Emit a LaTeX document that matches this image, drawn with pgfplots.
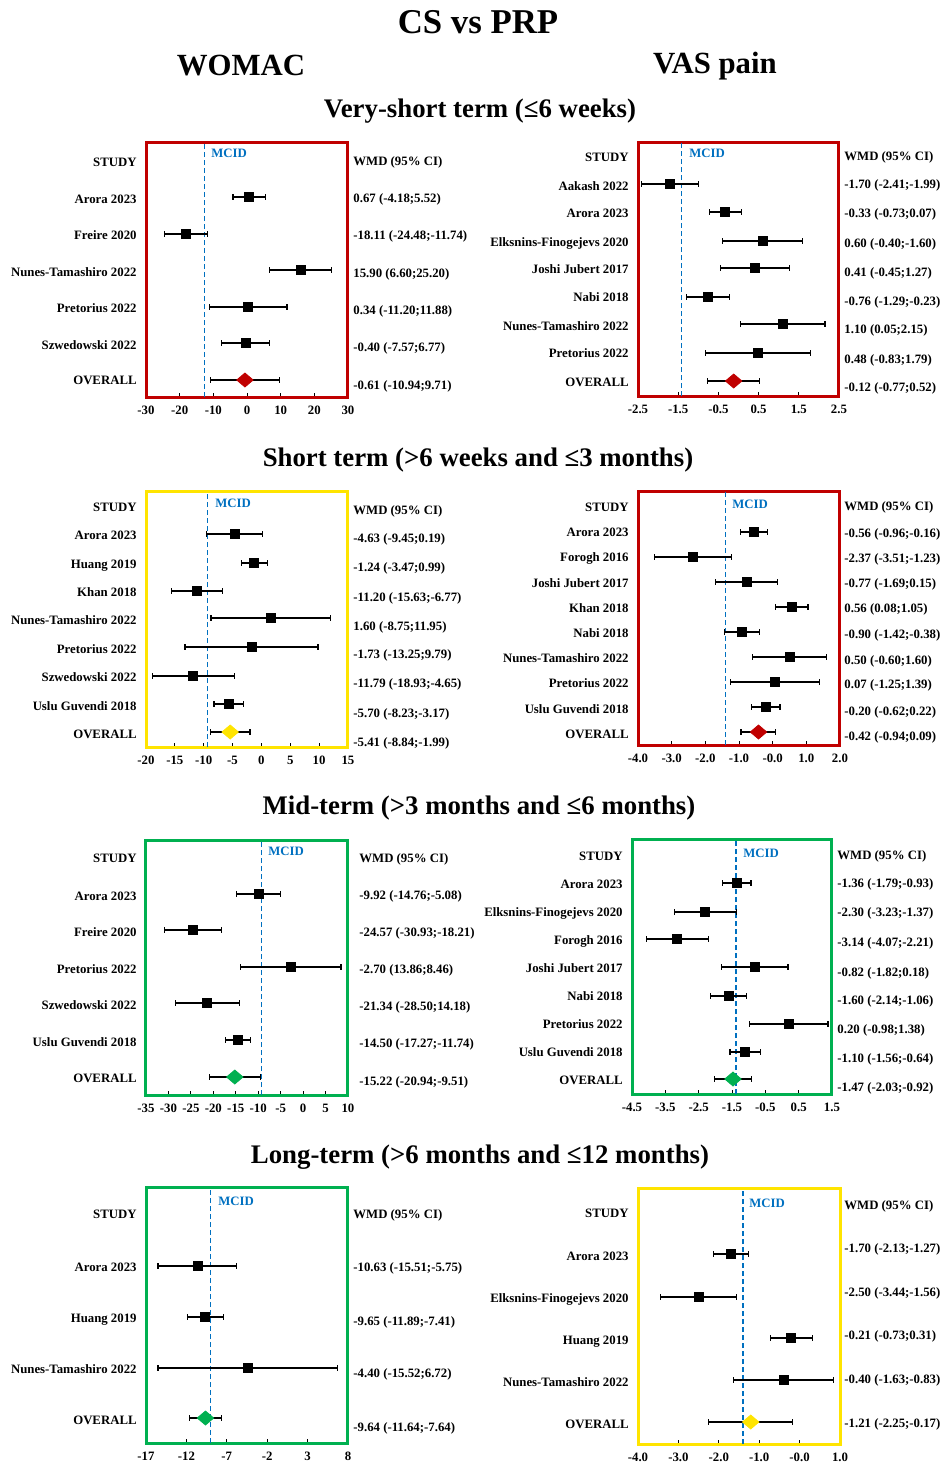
\documentclass[border=0pt]{standalone}
\usepackage{pgfplots}
\pgfplotsset{compat=1.18}
\usepackage{pgfplotstable}
\usepackage{fontspec}
\setmainfont{Liberation Serif}
\definecolor{cRed}{RGB}{192,0,0}
\definecolor{cYel}{RGB}{255,228,0}
\definecolor{cGrn}{RGB}{0,176,80}
\definecolor{cBlue}{RGB}{0,112,192}
\newcommand\lbl{\bfseries\fontsize{6.4}{7.6}\selectfont}
\tikzset{lab/.style={font=\lbl, inner sep=0pt, text height=4.2pt, text depth=0pt}}
\pgfdeclareplotmark{fdiamond}{%
  \pgfpathmoveto{\pgfqpoint{0pt}{0.85\pgfplotmarksize}}%
  \pgfpathlineto{\pgfqpoint{\pgfplotmarksize}{0pt}}%
  \pgfpathlineto{\pgfqpoint{0pt}{-0.85\pgfplotmarksize}}%
  \pgfpathlineto{\pgfqpoint{-\pgfplotmarksize}{0pt}}%
  \pgfpathclose\pgfusepathqfillstroke}
\pgfplotsset{
 forest/.style={scale only axis, anchor=south west, clip=false,
   axis line style={line width=1.5pt, #1},
   xtick pos=left, ytick pos=left, tick align=inside, major tick length=2pt,
   major tick style={black, line width=0.4pt},
   ytick style={draw=none},
   xticklabel style={font=\lbl, inner sep=0pt, text height=4.2pt, text depth=0pt, yshift=-4.5pt},
   yticklabel style={lab, anchor=east, xshift=-4.5pt},
 },
 study/.style={only marks, mark=square*, mark size=2.25pt, black,
   error bars/.cd, x dir=both, x explicit, error mark=|,
   error bar style={line width=0.6pt, black},
   error mark options={mark size=1.3pt, line width=0.6pt, black}},
 overall/.style={only marks, mark=fdiamond, mark size=4.1pt, color=#1,
   error bars/.cd, x dir=both, x explicit, error mark=|,
   error bar style={line width=0.6pt, black},
   error mark options={mark size=1.3pt, line width=0.6pt, black}},
 mcid/.style={cBlue, line width=0.6pt, dash pattern=on 2.5pt off 1.5pt},
}

% ---------- data (y = row position, x = WMD, lo/hi = 95% CI) ----------
\pgfplotstableread{
y x lo hi
-197 0.67 -4.18 5.52
-234 -18.11 -24.48 -11.74
-270 15.90 6.60 25.20
-307 0.34 -11.20 11.88
-343 -0.40 -7.57 6.77
}\pA
\pgfplotstableread{
y x lo hi
-380 -0.61 -10.94 9.71
}\oA
\pgfplotstableread{
y x lo hi
-184 -1.70 -2.41 -0.99
-212 -0.33 -0.73 0.07
-241 0.60 -0.40 1.60
-268 0.41 -0.45 1.27
-297 -0.76 -1.29 -0.23
-324 1.10 0.05 2.15
-353 0.48 -0.83 1.79
}\pB
\pgfplotstableread{
y x lo hi
-381 -0.12 -0.77 0.52
}\oB
\pgfplotstableread{
y x lo hi
-534 -4.63 -9.45 0.19
-563 -1.24 -3.47 0.99
-591 -11.20 -15.63 -6.77
-618 1.60 -8.75 11.95
-647 -1.73 -13.25 9.79
-676 -11.79 -18.93 -4.65
-704 -5.70 -8.23 -3.17
}\pC
\pgfplotstableread{
y x lo hi
-732 -5.41 -8.84 -1.99
}\oC
\pgfplotstableread{
y x lo hi
-532 -0.56 -0.96 -0.16
-557 -2.37 -3.51 -1.23
-582 -0.77 -1.69 0.15
-607 0.56 0.08 1.05
-632 -0.90 -1.42 -0.38
-657 0.50 -0.60 1.60
-682 0.07 -1.25 1.39
-707 -0.20 -0.62 0.22
}\pD
\pgfplotstableread{
y x lo hi
-732 -0.42 -0.94 0.09
}\oD
\pgfplotstableread{
y x lo hi
-894 -9.92 -14.76 -5.08
-930 -24.57 -30.93 -18.21
-967 -2.70 -13.86 8.46
-1003 -21.34 -28.50 -14.18
-1040 -14.50 -17.27 -11.74
}\pE
\pgfplotstableread{
y x lo hi
-1077 -15.22 -20.94 -9.51
}\oE
\pgfplotstableread{
y x lo hi
-883 -1.36 -1.79 -0.93
-912 -2.30 -3.23 -1.37
-939 -3.14 -4.07 -2.21
-967 -0.82 -1.82 0.18
-996 -1.60 -2.14 -1.06
-1024 0.20 -0.98 1.38
-1052 -1.10 -1.56 -0.64
}\pF
\pgfplotstableread{
y x lo hi
-1079 -1.47 -2.03 -0.92
}\oF
\pgfplotstableread{
y x lo hi
-1266 -10.63 -15.51 -5.75
-1317 -9.65 -11.89 -7.41
-1368 -4.40 -15.52 6.72
}\pG
\pgfplotstableread{
y x lo hi
-1418 -9.64 -11.64 -7.64
}\oG
\pgfplotstableread{
y x lo hi
-1254 -1.70 -2.13 -1.27
-1297 -2.50 -3.44 -1.56
-1338 -0.21 -0.73 0.31
-1380 -0.40 -1.63 0.83
}\pH
\pgfplotstableread{
y x lo hi
-1422 -1.21 -2.25 -0.17
}\oH

\begin{document}
\begin{tikzpicture}
\useasboundingbox (0,0) rectangle (472.5pt,-732pt);

% ===== Panel A: WOMAC very-short =====
\begin{axis}[forest=cRed, at={(73pt,-198.5pt)}, width=101pt, height=127.5pt,
  xmin=-30, xmax=30, ymin=-397, ymax=-142,
  xtick={-30,-20,-10,0,10,20,30}, xticklabels={-30,-20,-10,0,10,20,30},
  ytick={-380,-345,-308,-272,-235,-199,-162},
  yticklabels={OVERALL,Szwedowski 2022,Pretorius 2022,Nunes-Tamashiro 2022,Freire 2020,Arora 2023,STUDY}]
\addplot[mcid] coordinates {(-12.6,-397) (-12.6,-142)};
\addplot[study] table[x=x, y=y, x error plus expr=\thisrow{hi}-\thisrow{x}, x error minus expr=\thisrow{x}-\thisrow{lo}] {\pA};
\addplot[overall=cRed] table[x=x, y=y, x error plus expr=\thisrow{hi}-\thisrow{x}, x error minus expr=\thisrow{x}-\thisrow{lo}] {\oA};
\end{axis}

% ===== Panel B: VAS very-short =====
\begin{axis}[forest=cRed, at={(319pt,-198pt)}, width=100.5pt, height=127pt,
  xmin=-2.5, xmax=2.5, ymin=-396, ymax=-142,
  xtick={-2.5,-1.5,-0.5,0.5,1.5,2.5}, xticklabels={-2.5,-1.5,-0.5,0.5,1.5,2.5},
  ytick={-382,-353,-326,-297,-269,-242,-213,-186,-157},
  yticklabels={OVERALL,Pretorius 2022,Nunes-Tamashiro 2022,Nabi 2018,Joshi Jubert 2017,Elksnins-Finogejevs 2020,Arora 2023,Aakash 2022,STUDY}]
\addplot[mcid] coordinates {(-1.41,-396) (-1.41,-142)};
\addplot[study] table[x=x, y=y, x error plus expr=\thisrow{hi}-\thisrow{x}, x error minus expr=\thisrow{x}-\thisrow{lo}] {\pB};
\addplot[overall=cRed] table[x=x, y=y, x error plus expr=\thisrow{hi}-\thisrow{x}, x error minus expr=\thisrow{x}-\thisrow{lo}] {\oB};
\end{axis}

% ===== Panel C: WOMAC short =====
\begin{axis}[forest=cYel, at={(73pt,-373.5pt)}, width=101pt, height=128pt,
  xmin=-20, xmax=15, ymin=-747, ymax=-491,
  xtick={-20,-15,-10,-5,0,5,10,15}, xticklabels={-20,-15,-10,-5,0,5,10,15},
  ytick={-734,-706,-677,-649,-620,-592,-564,-535,-507},
  yticklabels={OVERALL,Uslu Guvendi 2018,Szwedowski 2022,Pretorius 2022,Nunes-Tamashiro 2022,Khan 2018,Huang 2019,Arora 2023,STUDY}]
\addplot[mcid] coordinates {(-9.3,-747) (-9.3,-491)};
\addplot[study] table[x=x, y=y, x error plus expr=\thisrow{hi}-\thisrow{x}, x error minus expr=\thisrow{x}-\thisrow{lo}] {\pC};
\addplot[overall=cYel] table[x=x, y=y, x error plus expr=\thisrow{hi}-\thisrow{x}, x error minus expr=\thisrow{x}-\thisrow{lo}] {\oC};
\end{axis}

% ===== Panel D: VAS short =====
\begin{axis}[forest=cRed, at={(319pt,-372.5pt)}, width=101pt, height=127pt,
  xmin=-4, xmax=2, ymin=-745, ymax=-491,
  xtick={-4,-3,-2,-1,0,1,2}, xticklabels={-4.0,-3.0,-2.0,-1.0,-0.0,1.0,2.0},
  ytick={-734,-709,-683,-658,-633,-608,-583,-557,-532,-507},
  yticklabels={OVERALL,Uslu Guvendi 2018,Pretorius 2022,Nunes-Tamashiro 2022,Nabi 2018,Khan 2018,Joshi Jubert 2017,Forogh 2016,Arora 2023,STUDY}]
\addplot[mcid] coordinates {(-1.41,-745) (-1.41,-491)};
\addplot[study] table[x=x, y=y, x error plus expr=\thisrow{hi}-\thisrow{x}, x error minus expr=\thisrow{x}-\thisrow{lo}] {\pD};
\addplot[overall=cRed] table[x=x, y=y, x error plus expr=\thisrow{hi}-\thisrow{x}, x error minus expr=\thisrow{x}-\thisrow{lo}] {\oD};
\end{axis}

% ===== Panel E: WOMAC mid =====
\begin{axis}[forest=cGrn, at={(73pt,-547.5pt)}, width=101pt, height=127.5pt,
  xmin=-35, xmax=10, ymin=-1095, ymax=-840,
  xtick={-35,-30,-25,-20,-15,-10,-5,0,5,10}, xticklabels={-35,-30,-25,-20,-15,-10,-5,0,5,10},
  ytick={-1078,-1042,-1005,-969,-932,-896,-858},
  yticklabels={OVERALL,Uslu Guvendi 2018,Szwedowski 2022,Pretorius 2022,Freire 2020,Arora 2023,STUDY}]
\addplot[mcid] coordinates {(-9.2,-1095) (-9.2,-840)};
\addplot[study] table[x=x, y=y, x error plus expr=\thisrow{hi}-\thisrow{x}, x error minus expr=\thisrow{x}-\thisrow{lo}] {\pE};
\addplot[overall=cGrn] table[x=x, y=y, x error plus expr=\thisrow{hi}-\thisrow{x}, x error minus expr=\thisrow{x}-\thisrow{lo}] {\oE};
\end{axis}

% ===== Panel F: VAS mid =====
\begin{axis}[forest=cGrn, at={(316pt,-547pt)}, width=100pt, height=127.5pt,
  xmin=-4.5, xmax=1.5, ymin=-1094, ymax=-839,
  xtick={-4.5,-3.5,-2.5,-1.5,-0.5,0.5,1.5}, xticklabels={-4.5,-3.5,-2.5,-1.5,-0.5,0.5,1.5},
  ytick={-1080,-1052,-1024,-996,-968,-940,-912,-884,-856},
  yticklabels={OVERALL,Uslu Guvendi 2018,Pretorius 2022,Nabi 2018,Joshi Jubert 2017,Forogh 2016,Elksnins-Finogejevs 2020,Arora 2023,STUDY}]
\addplot[mcid] coordinates {(-1.38,-1094) (-1.38,-839)};
\addplot[study] table[x=x, y=y, x error plus expr=\thisrow{hi}-\thisrow{x}, x error minus expr=\thisrow{x}-\thisrow{lo}] {\pF};
\addplot[overall=cGrn] table[x=x, y=y, x error plus expr=\thisrow{hi}-\thisrow{x}, x error minus expr=\thisrow{x}-\thisrow{lo}] {\oF};
\end{axis}

% ===== Panel G: WOMAC long =====
\begin{axis}[forest=cGrn, at={(73pt,-721.5pt)}, width=101pt, height=128pt,
  xmin=-17, xmax=8, ymin=-1443, ymax=-1187,
  xtick={-17,-12,-7,-2,3,8}, xticklabels={-17,-12,-7,-2,3,8},
  ytick={-1420,-1369,-1318,-1267,-1214},
  yticklabels={OVERALL,Nunes-Tamashiro 2022,Huang 2019,Arora 2023,STUDY}]
\addplot[mcid] coordinates {(-9.0,-1443) (-9.0,-1187)};
\addplot[study] table[x=x, y=y, x error plus expr=\thisrow{hi}-\thisrow{x}, x error minus expr=\thisrow{x}-\thisrow{lo}] {\pG};
\addplot[overall=cGrn] table[x=x, y=y, x error plus expr=\thisrow{hi}-\thisrow{x}, x error minus expr=\thisrow{x}-\thisrow{lo}] {\oG};
\end{axis}

% ===== Panel H: VAS long =====
\begin{axis}[forest=cYel, at={(319pt,-722pt)}, width=101pt, height=128pt,
  xmin=-4, xmax=1, ymin=-1444, ymax=-1188,
  xtick={-4,-3,-2,-1,0,1}, xticklabels={-4.0,-3.0,-2.0,-1.0,-0.0,1.0},
  ytick={-1424,-1382,-1340,-1298,-1256,-1213},
  yticklabels={OVERALL,Nunes-Tamashiro 2022,Huang 2019,Elksnins-Finogejevs 2020,Arora 2023,STUDY}]
\addplot[mcid] coordinates {(-1.4,-1444) (-1.4,-1188)};
\addplot[study] table[x=x, y=y, x error plus expr=\thisrow{hi}-\thisrow{x}, x error minus expr=\thisrow{x}-\thisrow{lo}] {\pH};
\addplot[overall=cYel] table[x=x, y=y, x error plus expr=\thisrow{hi}-\thisrow{x}, x error minus expr=\thisrow{x}-\thisrow{lo}] {\oH};
\end{axis}

% ===== texts (pixel coordinates) =====
\begin{scope}[x=0.5pt, y=-0.5pt]
\node[font=\bfseries\fontsize{17.4}{20}\selectfont] at (478,22) {CS vs PRP};
\node[font=\bfseries\fontsize{15.4}{18}\selectfont] at (241,66) {WOMAC};
\node[font=\bfseries\fontsize{15.4}{18}\selectfont] at (715,66) {VAS pain};
\node[font=\bfseries\fontsize{13.4}{16}\selectfont] at (480,111) {Very-short term (≤6 weeks)};
\node[font=\bfseries\fontsize{13.4}{16}\selectfont] at (478,460) {Short term (>6 weeks and ≤3 months)};
\node[font=\bfseries\fontsize{13.4}{16}\selectfont] at (479,808) {Mid-term (>3 months and ≤6 months)};
\node[font=\bfseries\fontsize{13.4}{16}\selectfont] at (480,1157) {Long-term (>6 months and ≤12 months)};

\begin{scope}[every node/.style={lab, text=cBlue, anchor=west}]
\node at (211,153) {MCID};
\node at (689,153) {MCID};
\node at (215,503) {MCID};
\node at (732,504) {MCID};
\node at (268,851) {MCID};
\node at (743,853) {MCID};
\node at (218,1201) {MCID};
\node at (749,1203) {MCID};
\end{scope}

\begin{scope}[every node/.style={lab, anchor=west}]
% A
\node at (353,161) {WMD (95\% CI)};
\node at (353,198) {0.67 (-4.18;5.52)};
\node at (353,235) {-18.11 (-24.48;-11.74)};
\node at (353,273) {15.90 (6.60;25.20)};
\node at (353,310) {0.34 (-11.20;11.88)};
\node at (353,347) {-0.40 (-7.57;6.77)};
\node at (353,385) {-0.61 (-10.94;9.71)};
% B
\node at (844,156) {WMD (95\% CI)};
\node at (844,184) {-1.70 (-2.41;-1.99)};
\node at (844,213) {-0.33 (-0.73;0.07)};
\node at (844,243) {0.60 (-0.40;-1.60)};
\node at (844,272) {0.41 (-0.45;1.27)};
\node at (844,301) {-0.76 (-1.29;-0.23)};
\node at (844,329) {1.10 (0.05;2.15)};
\node at (844,359) {0.48 (-0.83;1.79)};
\node at (844,387) {-0.12 (-0.77;0.52)};
% C
\node at (353,510) {WMD (95\% CI)};
\node at (353,538) {-4.63 (-9.45;0.19)};
\node at (353,567) {-1.24 (-3.47;0.99)};
\node at (353,597) {-11.20 (-15.63;-6.77)};
\node at (353,626) {1.60 (-8.75;11.95)};
\node at (353,654) {-1.73 (-13.25;9.79)};
\node at (353,683) {-11.79 (-18.93;-4.65)};
\node at (353,713) {-5.70 (-8.23;-3.17)};
\node at (353,742) {-5.41 (-8.84;-1.99)};
% D
\node at (844,506) {WMD (95\% CI)};
\node at (844,533) {-0.56 (-0.96;-0.16)};
\node at (844,558) {-2.37 (-3.51;-1.23)};
\node at (844,583) {-0.77 (-1.69;0.15)};
\node at (844,608) {0.56 (0.08;1.05)};
\node at (844,634) {-0.90 (-1.42;-0.38)};
\node at (844,660) {0.50 (-0.60;1.60)};
\node at (844,684) {0.07 (-1.25;1.39)};
\node at (844,711) {-0.20 (-0.62;0.22)};
\node at (844,736) {-0.42 (-0.94;0.09)};
% E
\node at (359,858) {WMD (95\% CI)};
\node at (359,895) {-9.92 (-14.76;-5.08)};
\node at (359,932) {-24.57 (-30.93;-18.21)};
\node at (359,969) {-2.70 (13.86;8.46)};
\node at (359,1006) {-21.34 (-28.50;14.18)};
\node at (359,1043) {-14.50 (-17.27;-11.74)};
\node at (359,1081) {-15.22 (-20.94;-9.51)};
% F
\node at (837,855) {WMD (95\% CI)};
\node at (837,883) {-1.36 (-1.79;-0.93)};
\node at (837,912) {-2.30 (-3.23;-1.37)};
\node at (837,942) {-3.14 (-4.07;-2.21)};
\node at (837,972) {-0.82 (-1.82;0.18)};
\node at (837,1000) {-1.60 (-2.14;-1.06)};
\node at (837,1029) {0.20 (-0.98;1.38)};
\node at (837,1058) {-1.10 (-1.56;-0.64)};
\node at (837,1087) {-1.47 (-2.03;-0.92)};
% G
\node at (353,1214) {WMD (95\% CI)};
\node at (353,1267) {-10.63 (-15.51;-5.75)};
\node at (353,1321) {-9.65 (-11.89;-7.41)};
\node at (353,1373) {-4.40 (-15.52;6.72)};
\node at (353,1427) {-9.64 (-11.64;-7.64)};
% H
\node at (844,1205) {WMD (95\% CI)};
\node at (844,1248) {-1.70 (-2.13;-1.27)};
\node at (844,1292) {-2.50 (-3.44;-1.56)};
\node at (844,1335) {-0.21 (-0.73;0.31)};
\node at (844,1379) {-0.40 (-1.63;-0.83)};
\node at (844,1423) {-1.21 (-2.25;-0.17)};
\end{scope}
\end{scope}
\end{tikzpicture}
\end{document}
